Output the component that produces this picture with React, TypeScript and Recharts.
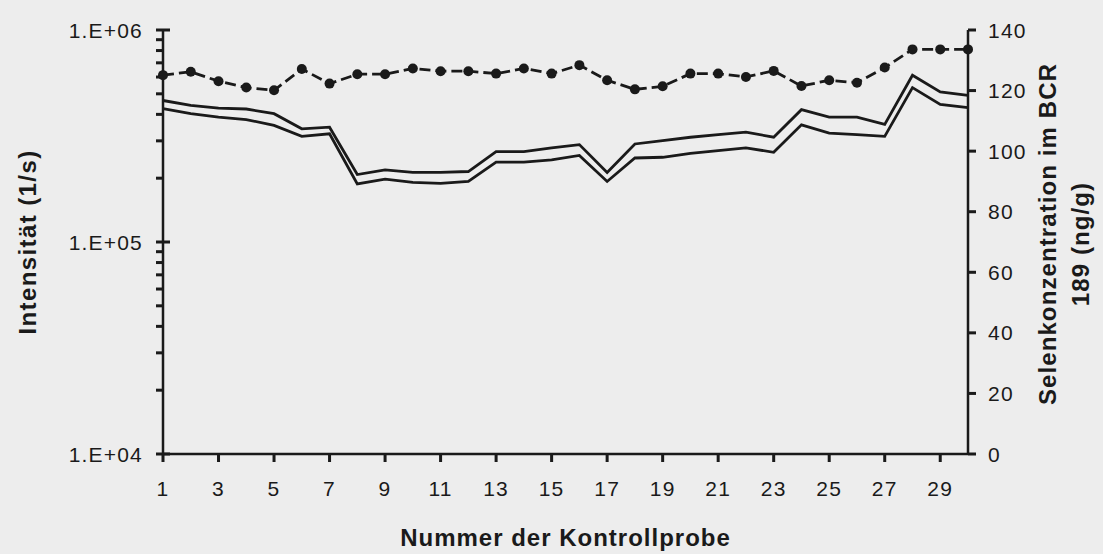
import React from "react";
import { ComposedChart, Line, XAxis, YAxis } from "recharts";

const samples = [1, 2, 3, 4, 5, 6, 7, 8, 9, 10, 11, 12, 13, 14, 15, 16, 17, 18, 19, 20, 21, 22, 23, 24, 25, 26, 27, 28, 29, 30];
const upperIntensity = [465000, 441000, 428000, 424000, 403000, 342000, 348000, 208000, 219000, 213000, 213000, 215000, 267000, 267000, 278000, 288000, 213000, 290000, 301000, 312000, 321000, 330000, 312000, 421000, 388000, 388000, 359000, 612000, 510000, 492000];
const lowerIntensity = [426000, 403000, 388000, 378000, 355000, 315000, 324000, 188000, 198000, 191000, 189000, 193000, 238000, 238000, 244000, 256000, 193000, 249000, 251000, 262000, 270000, 278000, 265000, 357000, 326000, 321000, 315000, 535000, 446000, 430000];
const selenium = [125.1, 126.2, 123.1, 121.0, 120.1, 127.1, 122.3, 125.4, 125.4, 127.3, 126.4, 126.4, 125.6, 127.3, 125.6, 128.4, 123.4, 120.4, 121.4, 125.6, 125.6, 124.5, 126.5, 121.5, 123.4, 122.6, 127.6, 133.6, 133.6, 133.6];

const xTicks = [1, 3, 5, 7, 9, 11, 13, 15, 17, 19, 21, 23, 25, 27, 29];
const leftTicks = [1e4, 2e4, 3e4, 4e4, 5e4, 6e4, 7e4, 8e4, 9e4, 1e5, 2e5, 3e5, 4e5, 5e5, 6e5, 7e5, 8e5, 9e5, 1e6];
const leftLabels: Record<number, string> = { 10000: "1.E+04", 100000: "1.E+05", 1000000: "1.E+06" };
const rightTicks = [0, 20, 40, 60, 80, 100, 120, 140];

const xTitle = "Nummer der Kontrollprobe";
const leftTitle = "Intensität (1/s)";
const rightTitle1 = "Selenkonzentration im BCR";
const rightTitle2 = "189 (ng/g)";

const data = samples.map((s, i) => ({
  sample: s,
  upper: upperIntensity[i],
  lower: lowerIntensity[i],
  se: selenium[i],
}));

const INK = "#1a1a1a";
const FONT = "'Liberation Sans', Arial, sans-serif";
const TW = 3;

const textStyle = { fill: INK, fontSize: 21, fontFamily: FONT, letterSpacing: 1.2 };

const LEFT_SIZE = 7;
const LEFT_MARGIN = 13;
const LeftTick = (props: any) => {
  const { x, y, payload } = props;
  const label = leftLabels[payload.value];
  const axisX = Number(x) + LEFT_SIZE + LEFT_MARGIN;
  const yy = Number(y);
  const len = label ? LEFT_SIZE * 2 : LEFT_SIZE;
  return (
    <g>
      <rect x={axisX - LEFT_SIZE} y={yy - TW / 2} width={len} height={TW} fill={INK} />
      {label ? (
        <text x={x} y={y} textAnchor="end" dominantBaseline="central" {...textStyle}>
          {label}
        </text>
      ) : null}
    </g>
  );
};

const RIGHT_SIZE = 8;
const RIGHT_MARGIN = 12;
const RightTick = (props: any) => {
  const { x, y, payload } = props;
  const axisX = Number(x) - RIGHT_SIZE - RIGHT_MARGIN;
  const yy = Number(y);
  return (
    <g>
      <rect x={axisX} y={yy - TW / 2} width={RIGHT_SIZE} height={TW} fill={INK} />
      <text x={x} y={y} textAnchor="start" dominantBaseline="central" {...textStyle}>
        {payload.value}
      </text>
    </g>
  );
};

const X_SIZE = 8;
const X_MARGIN = 18;
const BottomTick = (props: any) => {
  const { x, y, payload } = props;
  const xx = Number(x);
  const axisY = Number(y) - X_SIZE - X_MARGIN;
  return (
    <g>
      <rect x={xx - TW / 2} y={axisY} width={TW} height={X_SIZE} fill={INK} />
      <text x={x} y={Number(y) + 8} textAnchor="middle" dominantBaseline="central" {...textStyle}>
        {payload.value}
      </text>
    </g>
  );
};

export default function App() {
  return (
    <div style={{ position: "absolute", left: 0, top: 0, width: 1103, height: 554, background: "#ededed" }}>
      <ComposedChart width={1103} height={554} data={data} margin={{ top: 30, right: 0, bottom: 0, left: 0 }}>
        <XAxis
          dataKey="sample"
          type="number"
          domain={[1, 30]}
          ticks={xTicks}
          height={100}
          tickSize={X_SIZE}
          tickMargin={X_MARGIN}
          axisLine={{ stroke: INK, strokeWidth: 2.5 }}
          tickLine={false}
          tick={<BottomTick />}
          interval={0}
          label={{
            content: (p: any) => {
              const vb = p.viewBox;
              return (
                <text
                  x={vb.x + vb.width / 2}
                  y={546}
                  textAnchor="middle"
                  fill={INK}
                  fontSize={24}
                  fontWeight="bold"
                  fontFamily={FONT}
                  letterSpacing={1}
                >
                  {xTitle}
                </text>
              );
            },
          }}
        />
        <YAxis
          yAxisId="left"
          scale="log"
          domain={[1e4, 1e6]}
          allowDataOverflow
          ticks={leftTicks}
          interval={0}
          width={163}
          tickSize={LEFT_SIZE}
          tickMargin={LEFT_MARGIN}
          axisLine={{ stroke: INK, strokeWidth: 2.5 }}
          tickLine={false}
          tick={<LeftTick />}
          label={{
            content: (p: any) => {
              const vb = p.viewBox;
              const cy = vb.y + vb.height / 2;
              return (
                <text
                  x={27}
                  y={cy}
                  transform={`rotate(-90, 27, ${cy})`}
                  textAnchor="middle"
                  dominantBaseline="central"
                  fill={INK}
                  fontSize={24}
                  fontWeight="bold"
                  fontFamily={FONT}
                  letterSpacing={1.4}
                >
                  {leftTitle}
                </text>
              );
            },
          }}
        />
        <YAxis
          yAxisId="right"
          orientation="right"
          domain={[0, 140]}
          ticks={rightTicks}
          interval={0}
          width={135}
          tickSize={RIGHT_SIZE}
          tickMargin={RIGHT_MARGIN}
          axisLine={{ stroke: INK, strokeWidth: 2.5 }}
          tickLine={false}
          tick={<RightTick />}
          label={{
            content: (p: any) => {
              const vb = p.viewBox;
              const cy = vb.y + vb.height / 2;
              const x1 = vb.x + 79;
              const x2 = vb.x + 112;
              const common = {
                textAnchor: "middle" as const,
                dominantBaseline: "central" as const,
                fill: INK,
                fontSize: 24,
                fontWeight: "bold",
                fontFamily: FONT,
                letterSpacing: 1.1,
              };
              return (
                <g>
                  <text x={x1} y={cy - 8} transform={`rotate(-90, ${x1}, ${cy - 8})`} {...common}>
                    {rightTitle1}
                  </text>
                  <text x={x2} y={cy + 2} transform={`rotate(-90, ${x2}, ${cy + 2})`} {...common}>
                    {rightTitle2}
                  </text>
                </g>
              );
            },
          }}
        />
        <Line yAxisId="left" type="linear" dataKey="upper" stroke={INK} strokeWidth={2.8} dot={false} isAnimationActive={false} />
        <Line yAxisId="left" type="linear" dataKey="lower" stroke={INK} strokeWidth={2.8} dot={false} isAnimationActive={false} />
        <Line
          yAxisId="right"
          type="linear"
          dataKey="se"
          stroke={INK}
          strokeWidth={2.8}
          strokeDasharray="11 5"
          dot={{ r: 5, fill: INK, stroke: "none", strokeWidth: 0 }}
          isAnimationActive={false}
        />
      </ComposedChart>
    </div>
  );
}
